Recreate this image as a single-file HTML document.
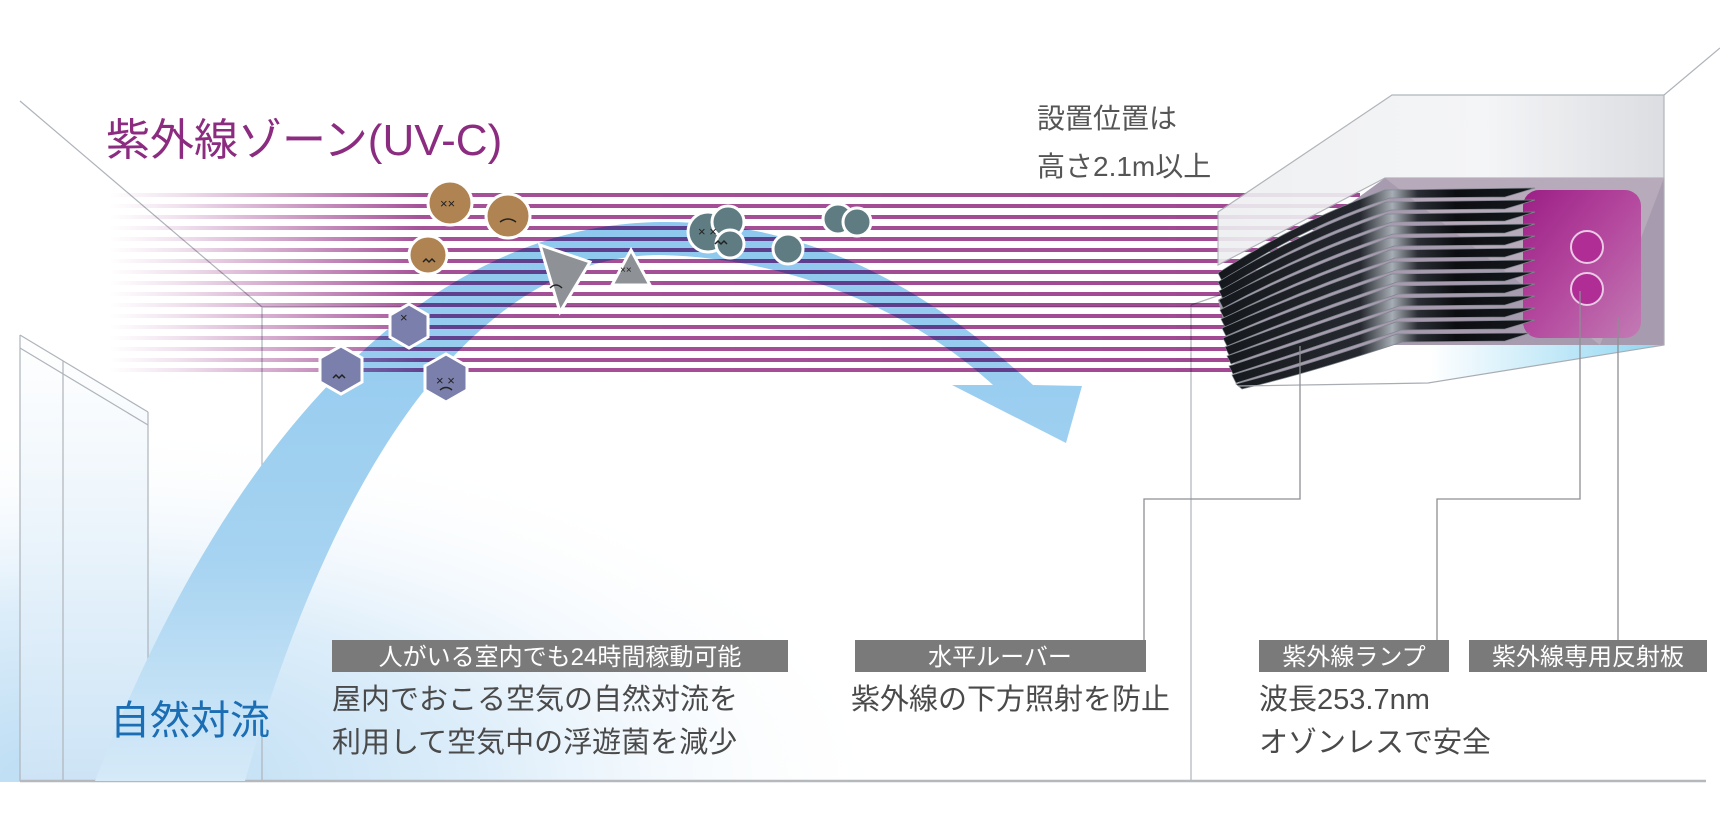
<!DOCTYPE html>
<html><head><meta charset="utf-8"><style>
html,body{margin:0;padding:0;background:#fff;}
svg{display:block;}
text{font-family:"Liberation Sans","Noto Sans CJK JP",sans-serif;}
</style></head><body>
<svg width="1720" height="840" viewBox="0 0 1720 840" xmlns="http://www.w3.org/2000/svg">
<defs>
<linearGradient id="stripeFade" x1="0" x2="1" y1="0" y2="0">
<stop offset="0" stop-color="#a8509a" stop-opacity="0"/>
<stop offset="0.05" stop-color="#a8509a" stop-opacity="0.15"/>
<stop offset="0.25" stop-color="#a04892" stop-opacity="0.95"/>
<stop offset="1" stop-color="#a04892" stop-opacity="1"/>
</linearGradient>
<linearGradient id="arrowG" x1="0" x2="0" y1="0" y2="1">
<stop offset="0" stop-color="#8ec8ee"/>
<stop offset="0.6" stop-color="#a6d3f1"/>
<stop offset="1" stop-color="#d6eaf8"/>
</linearGradient>
<radialGradient id="floorGlow" cx="0.1" cy="1" r="0.9">
<stop offset="0" stop-color="#b9dbf3"/>
<stop offset="0.5" stop-color="#deeefa"/>
<stop offset="1" stop-color="#ffffff" stop-opacity="0"/>
</radialGradient>
<linearGradient id="topFace" x1="0" x2="1" y1="0" y2="0">
<stop offset="0" stop-color="#eeeff1"/><stop offset="0.6" stop-color="#f3f4f6"/><stop offset="1" stop-color="#d8dadf"/>
</linearGradient>
<linearGradient id="louver" gradientUnits="userSpaceOnUse" x1="1218" x2="1535" y1="0" y2="0">
<stop offset="0" stop-color="#14171b"/><stop offset="0.45" stop-color="#262a30"/><stop offset="0.55" stop-color="#a7adb4"/><stop offset="0.63" stop-color="#2a2e34"/><stop offset="0.75" stop-color="#0c0e12"/><stop offset="1" stop-color="#15181c"/>
</linearGradient>
<linearGradient id="refl" x1="0" x2="1" y1="0" y2="1">
<stop offset="0" stop-color="#9c1f86"/><stop offset="0.5" stop-color="#b4489e"/><stop offset="1" stop-color="#c27bb4"/>
</linearGradient>
<linearGradient id="blueUnder" x1="0" x2="1" y1="0" y2="0">
<stop offset="0" stop-color="#ffffff"/><stop offset="0.45" stop-color="#ffffff"/><stop offset="1" stop-color="#8fd6f2"/>
</linearGradient>
<linearGradient id="winG" x1="0" x2="0" y1="0" y2="1">
<stop offset="0" stop-color="#ffffff"/><stop offset="1" stop-color="#cfe5f6"/>
</linearGradient>
</defs>

<rect x="0" y="380" width="900" height="402" fill="url(#floorGlow)"/>
<polygon points="20,335 148,412 148,781 20,781" fill="url(#winG)" opacity="0.9"/>
<g stroke="#aeb4ba" stroke-width="1.2" fill="none">
<line x1="20" y1="335" x2="148" y2="412"/>
<line x1="20" y1="348" x2="148" y2="425"/>
<line x1="20" y1="335" x2="20" y2="781"/>
<line x1="63" y1="361" x2="63" y2="781"/>
<line x1="148" y1="412" x2="148" y2="781"/>
<line x1="20" y1="101" x2="262" y2="307"/>
<line x1="262" y1="307" x2="262" y2="781"/>
<line x1="262" y1="307" x2="1220" y2="307"/>
<line x1="1191" y1="305" x2="1191" y2="781"/>
<line x1="1191" y1="305" x2="1220" y2="295"/>
<line x1="1664" y1="95" x2="1720" y2="48"/>
</g>
<line x1="20" y1="781" x2="1706" y2="781" stroke="#b5b8bc" stroke-width="2.5"/>

<path d="M95,781 C230,430 430,225 660,222 C820,220 940,300 1033,385 L1082,386 L1066,443 L952,385 L993,385 C920,318 800,258 660,255 C470,255 330,480 245,781 Z" fill="url(#arrowG)"/>

<g fill="url(#stripeFade)" style="mix-blend-mode:multiply">
<rect x="110" y="193" width="1250" height="4"/>
<rect x="110" y="204" width="1250" height="4"/>
<rect x="110" y="215" width="1250" height="4"/>
<rect x="110" y="226" width="1250" height="4"/>
<rect x="110" y="237" width="1250" height="4"/>
<rect x="110" y="248" width="1250" height="4"/>
<rect x="110" y="259" width="1250" height="4"/>
<rect x="110" y="270" width="1250" height="4"/>
<rect x="110" y="281" width="1250" height="4"/>
<rect x="110" y="292" width="1250" height="4"/>
<rect x="110" y="303" width="1250" height="4"/>
<rect x="110" y="314" width="1250" height="4"/>
<rect x="110" y="325" width="1250" height="4"/>
<rect x="110" y="336" width="1250" height="4"/>
<rect x="110" y="347" width="1250" height="4"/>
<rect x="110" y="358" width="1250" height="4"/>
<rect x="110" y="368" width="1250" height="4"/>
</g>

<!-- device -->
<polygon points="1238,386 1428,383 1664,345 1390,345" fill="url(#blueUnder)"/>
<polygon points="1392,95 1664,95 1664,178 1385,178 1218,265 1218,212" fill="url(#topFace)" stroke="#a9adb3" stroke-width="1.2" opacity="0.9"/>
<polygon points="1385,178 1664,178 1664,345 1390,345 1240,385 1218,300" fill="#a79caf"/>
<polygon points="1385,178 1664,178 1600,345" fill="#b7aaba"/>
<rect x="1523" y="190" width="118" height="148" rx="16" fill="url(#refl)"/>
<g fill="url(#louver)" stroke="#7f858d" stroke-width="0.7">
<path d="M1218,273 Q1300,220 1385,190 L1535,188 L1505,197 L1390,198 Q1300,228 1222,281 Z"/>
<path d="M1218,282 Q1300,232 1386,202 L1535,200 L1505,209 L1391,210 Q1301,240 1222,290 Z"/>
<path d="M1219,291 Q1301,244 1387,214 L1535,212 L1505,221 L1392,222 Q1302,252 1223,299 Z"/>
<path d="M1219,300 Q1302,256 1388,226 L1535,224 L1505,233 L1393,234 Q1303,264 1223,308 Z"/>
<path d="M1220,310 Q1303,268 1389,238 L1535,236 L1505,245 L1394,246 Q1304,276 1224,318 Z"/>
<path d="M1221,319 Q1304,280 1390,250 L1535,248 L1505,257 L1395,258 Q1305,288 1225,327 Z"/>
<path d="M1222,328 Q1305,292 1391,262 L1535,260 L1505,269 L1396,270 Q1306,300 1226,336 Z"/>
<path d="M1223,338 Q1306,304 1392,274 L1535,272 L1505,281 L1397,282 Q1307,312 1227,346 Z"/>
<path d="M1225,347 Q1307,316 1393,286 L1535,284 L1505,293 L1398,294 Q1308,324 1229,355 Z"/>
<path d="M1227,356 Q1308,328 1394,298 L1535,296 L1505,305 L1399,306 Q1309,336 1231,364 Z"/>
<path d="M1229,366 Q1309,340 1395,310 L1535,308 L1505,317 L1400,318 Q1310,348 1233,374 Z"/>
<path d="M1232,375 Q1310,352 1396,322 L1535,320 L1505,329 L1401,330 Q1311,360 1236,383 Z"/>
<path d="M1236,384 Q1312,364 1397,334 L1530,333 L1505,341 L1402,342 Q1313,372 1242,389 Z"/>
</g>
<g stroke="#e9c9e4" stroke-width="2" fill="#b02d95">
<circle cx="1587" cy="247" r="16"/>
<circle cx="1587" cy="289" r="16"/>
</g>
<polyline points="1238,386 1428,383 1664,345 1664,178" fill="none" stroke="#a9adb3" stroke-width="1.2"/>

<g stroke="#8c8f93" stroke-width="1.3" fill="none">
<polyline points="1300,346 1300,499 1144,499 1144,640"/>
<polyline points="1580,291 1580,499 1437,499 1437,640"/>
<polyline points="1618,318 1618,640"/>
</g>

<!-- germs -->
<g stroke="#fff" stroke-width="3">
<circle cx="450" cy="203" r="22" fill="#b08452"/>
<circle cx="508" cy="216" r="22" fill="#b08452"/>
<circle cx="428" cy="255" r="19" fill="#b08452"/>
<polygon points="540,245 590,262 560,312" fill="#8e9195"/>
<polygon points="631,250 650,285 612,285" fill="#8e9195"/>
<circle cx="708" cy="232" r="20" fill="#5f7c82"/>
<circle cx="728" cy="222" r="16" fill="#5f7c82"/>
<circle cx="730" cy="244" r="14" fill="#5f7c82"/>
<circle cx="788" cy="249" r="15" fill="#5f7c82"/>
<circle cx="838" cy="219" r="15" fill="#5f7c82"/>
<circle cx="857" cy="222" r="14" fill="#5f7c82"/>
<polygon points="409,304 428,315 428,337 409,348 390,337 390,315" fill="#7b7fab"/>
<polygon points="341,346 362,358 362,382 341,394 320,382 320,358" fill="#7b7fab"/>
<polygon points="446,354 467,366 467,390 446,402 425,390 425,366" fill="#7b7fab"/>
</g>
<g fill="none" stroke="#222" stroke-width="1.5">
<path d="M500,222 q8,-6 16,0 M423,262 l3,-3 3,3 3,-3 3,3 M333,378 l3,-3 3,3 3,-3 3,3 M715,244 l3,-3 3,3 3,-3 3,3 M550,288 q6,-6 12,0 M440,390 q6,-5 12,0"/>
</g>
<g fill="#222" font-size="13">
<text x="440" y="208">××</text>
<text x="698" y="236">× ×</text>
<text x="436" y="385">× ×</text>
<text x="400" y="322">×</text>
<text x="620" y="273" font-size="10">××</text>
</g>

<text x="106" y="155" font-size="44" fill="#8c2c80">紫外線ゾーン(UV-C)</text>
<text x="1037" y="128" font-size="28" fill="#555">設置位置は</text>
<text x="1037" y="176" font-size="28" fill="#555">高さ2.1m以上</text>
<text x="110" y="734" font-size="40" fill="#1b6db4">自然対流</text>

<g fill="#7a7a7a">
<rect x="332" y="640" width="456" height="32"/>
<rect x="855" y="640" width="291" height="32"/>
<rect x="1259" y="640" width="190" height="32"/>
<rect x="1469" y="640" width="238" height="32"/>
</g>
<g fill="#fff" font-size="24" text-anchor="middle">
<text x="560" y="665">人がいる室内でも24時間稼動可能</text>
<text x="1000" y="665">水平ルーバー</text>
<text x="1354" y="665">紫外線ランプ</text>
<text x="1588" y="665">紫外線専用反射板</text>
</g>
<g fill="#4a4a4a" font-size="29">
<text x="332" y="709">屋内でおこる空気の自然対流を</text>
<text x="332" y="752">利用して空気中の浮遊菌を減少</text>
<text x="851" y="709">紫外線の下方照射を防止</text>
<text x="1259" y="709">波長253.7nm</text>
<text x="1259" y="752">オゾンレスで安全</text>
</g>
</svg>
</body></html>
